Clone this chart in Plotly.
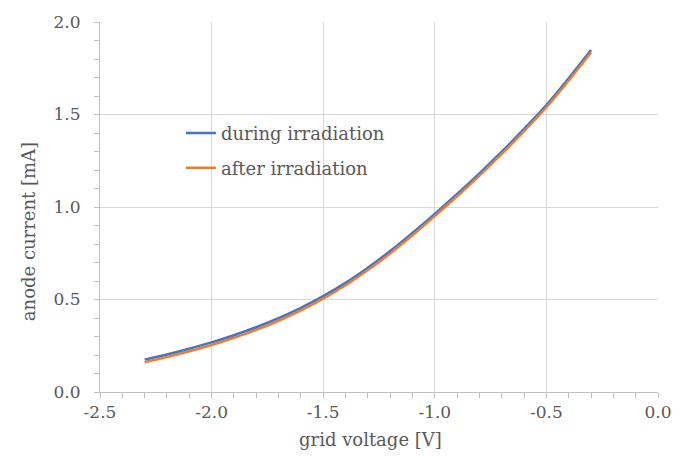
import plotly.graph_objects as go

grid_voltage = [-2.3, -2.2, -2.1, -2.0, -1.9, -1.8, -1.7, -1.6, -1.5, -1.4, -1.3,
                -1.2, -1.1, -1.0, -0.9, -0.8, -0.7, -0.6, -0.5, -0.4, -0.3]
during_irradiation = [0.175, 0.203, 0.234, 0.268, 0.307, 0.350, 0.399, 0.455, 0.518, 0.590, 0.672,
                      0.762, 0.860, 0.963, 1.070, 1.182, 1.299, 1.422, 1.551, 1.696, 1.848]
after_irradiation = [0.161, 0.189, 0.220, 0.254, 0.293, 0.336, 0.385, 0.441, 0.505, 0.577, 0.659,
                     0.749, 0.847, 0.951, 1.058, 1.170, 1.287, 1.410, 1.539, 1.684, 1.835]

x_ticks = [-2.5, -2.0, -1.5, -1.0, -0.5, 0.0]
y_ticks = [0.0, 0.5, 1.0, 1.5, 2.0]

FONT = "DejaVu Serif"
TXT = "#595959"
TICK_SIZE = 17
LABEL_SIZE = 18

fig = go.Figure()
fig.add_trace(go.Scatter(x=grid_voltage, y=during_irradiation, mode="lines",
                         name="during irradiation", legend="legend",
                         line=dict(color="#4472C4", width=2.5, shape="spline")))
fig.add_trace(go.Scatter(x=grid_voltage, y=after_irradiation, mode="lines",
                         name="after irradiation", legend="legend2",
                         line=dict(color="#ED7D31", width=2.5, shape="spline")))

axis_common = dict(
    showgrid=True, gridcolor="#d9d9d9", gridwidth=1,
    showline=True, linecolor="#bfbfbf", linewidth=1,
    ticks="outside", ticklen=5, tickcolor="#bfbfbf",
    tickfont=dict(family=FONT, size=TICK_SIZE, color=TXT),
    zeroline=False,
)

leg_common = dict(xanchor="left", yanchor="middle", bgcolor="rgba(0,0,0,0)",
                  font=dict(family=FONT, size=LABEL_SIZE, color=TXT), itemwidth=30,
                  borderwidth=0)

fig.update_layout(
    width=686, height=456,
    margin=dict(l=100, r=28, t=17, b=64),
    paper_bgcolor="white", plot_bgcolor="white",
    font=dict(family=FONT, color=TXT, size=TICK_SIZE),
    showlegend=True,
    legend=dict(x=0.145, y=0.699, **leg_common),
    legend2=dict(x=0.145, y=0.605, **leg_common),
    annotations=[
        dict(text="grid voltage [V]", xref="paper", yref="paper", x=0.484, y=-0.128,
             xanchor="center", yanchor="middle", showarrow=False,
             font=dict(family=FONT, size=LABEL_SIZE, color=TXT)),
        dict(text="anode current [mA]", xref="paper", yref="paper", x=-0.129, y=0.432,
             xanchor="center", yanchor="middle", showarrow=False, textangle=-90,
             font=dict(family=FONT, size=LABEL_SIZE, color=TXT)),
    ],
)
fig.update_xaxes(**axis_common, range=[-2.5, 0.0], tickvals=x_ticks,
                 ticktext=[f"{v:.1f}" for v in x_ticks],
                 minor=dict(dtick=0.1, ticks="outside", ticklen=5, tickcolor="#bfbfbf", showgrid=False))
fig.update_yaxes(**axis_common, range=[0.0, 2.0], tickvals=y_ticks,
                 ticktext=[f"{v:.1f}" for v in y_ticks], ticklabelstandoff=10,
                 minor=dict(dtick=0.1, ticks="outside", ticklen=5, tickcolor="#bfbfbf", showgrid=False))

fig.write_html("out.html")
